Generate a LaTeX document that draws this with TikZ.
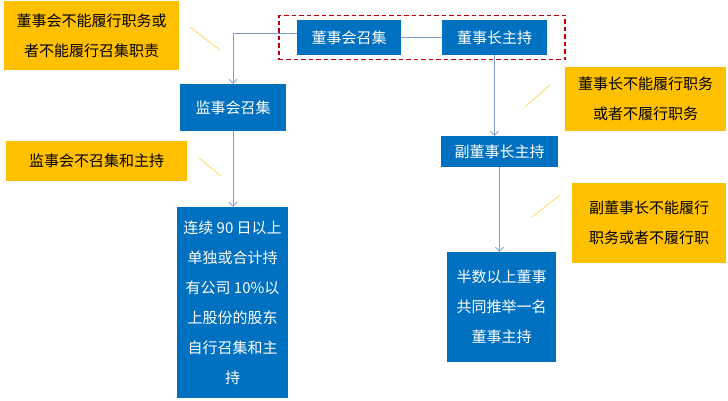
\documentclass[tikz,border=0pt]{standalone}
\usepackage{fontspec}
\newfontfamily\cjk{Noto Sans CJK SC}
\usetikzlibrary{arrows.meta,fit}
\definecolor{boxblue}{HTML}{0070C0}
\definecolor{boxgold}{HTML}{FFC000}
\definecolor{linkblue}{HTML}{7F9FD3}
\definecolor{tickgold}{HTML}{FFD966}
\definecolor{framered}{HTML}{C00000}
\begin{document}
\begin{tikzpicture}[x=1pt,y=-1pt]

\tikzstyle{bluebox}=[fill=boxblue, text=white, inner sep=0pt, align=center, font=\cjk\fontsize{15}{30}\selectfont]
\tikzstyle{goldbox}=[fill=boxgold, text=black, inner sep=0pt, align=center, font=\cjk\fontsize{15}{30}\selectfont]
\tikzstyle{link}=[draw=linkblue, line width=0.9pt]
\tikzstyle{linkarrow}=[link, -{Straight Barb[length=4pt,width=8pt]}]
\tikzstyle{tick}=[draw=tickgold, line width=0.8pt]

\useasboundingbox (0,0) rectangle (728,400);

\node[goldbox, minimum width=175pt, minimum height=69pt] (boardfail) at (91.5,35.5) {董事会不能履行职务或\\者不能履行召集职责};
\node[goldbox, minimum width=181pt, minimum height=40pt] (superfail) at (96.5,161) {监事会不召集和主持};
\node[goldbox, minimum width=161pt, minimum height=64pt] (chairfail) at (645.5,99) {董事长不能履行职务\\或者不履行职务};
\node[goldbox, minimum width=154pt, minimum height=80pt] (vicefail) at (649,223) {副董事长不能履行\\职务或者不履行职};

\node[bluebox, minimum width=104pt, minimum height=35pt] (call) at (349,37.5) {董事会召集};
\node[bluebox, minimum width=105pt, minimum height=35pt] (chair) at (494.5,37.5) {董事长主持};
\node[bluebox, minimum width=106pt, minimum height=47pt] (super) at (233,107.5) {监事会召集};
\node[bluebox, minimum width=117pt, minimum height=31pt] (vice) at (499.5,151.5) {副董事长主持};
\node[bluebox, minimum width=111pt, minimum height=191pt] (holders) at (232.5,302.5) {连续 90 日以上\\单独或合计持\\有公司 10\%以\\上股份的股东\\自行召集和主\\持};
\node[bluebox, minimum width=109pt, minimum height=110pt] (directors) at (501.5,307) {半数以上董事\\共同推举一名\\董事主持};

\node[draw=framered, dash pattern=on 4.5pt off 3pt, line width=1.5pt, fit=(call)(chair), inner xsep=18pt, inner ysep=4.5pt] (board) {};

\draw[link] (call.east) -- (chair.west);
\draw[linkarrow] ([yshift=4pt]call.west) -| (super.north);
\draw[linkarrow] (chair.south) -- (chair.south |- vice.north);
\draw[linkarrow] (super.south) -- (super.south |- holders.north);
\draw[linkarrow] (vice.south) -- (vice.south |- directors.north);

\draw[tick] (190,27) -- (220,50);
\draw[tick] (199,158) -- (221,176);
\draw[tick] (525,107) -- (550,85);
\draw[tick] (532,217) -- (560,195);
\end{tikzpicture}
\end{document}
